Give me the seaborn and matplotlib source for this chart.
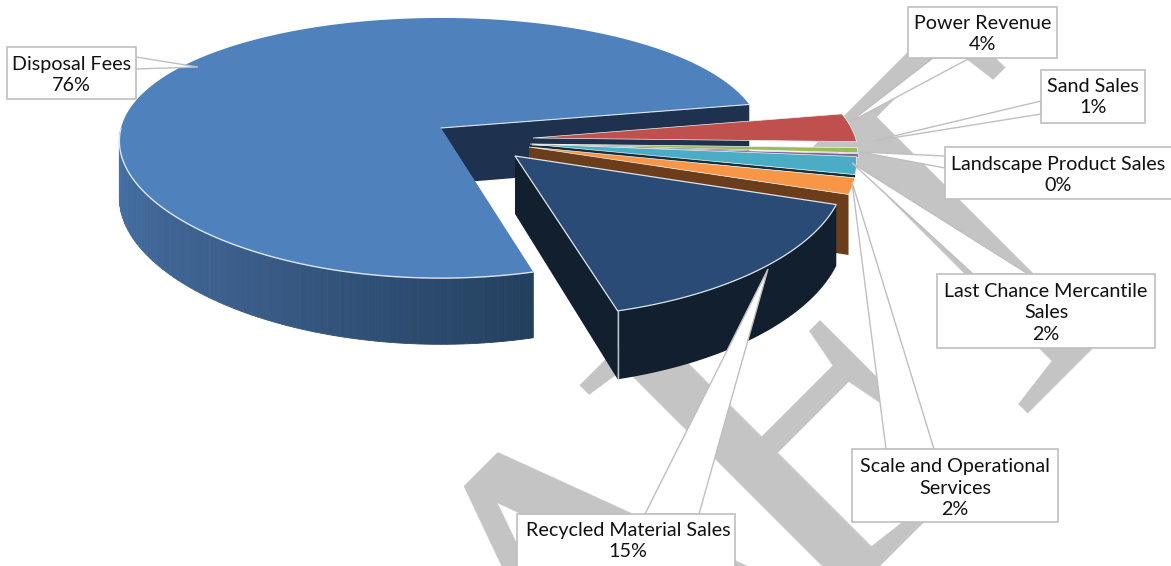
import numpy as np
import matplotlib
matplotlib.use("Agg")
import matplotlib.pyplot as plt
from matplotlib.patches import Polygon, Rectangle
import seaborn as sns

# ---- data ----
categories = ["Power Revenue", "Sand Sales", "Landscape Product Sales",
              "Last Chance Mercantile Sales", "Scale and Operational Services",
              "Recycled Material Sales", "Disposal Fees"]
label_text = ["Power Revenue", "Sand Sales", "Landscape Product Sales",
              "Last Chance Mercantile\nSales", "Scale and Operational\nServices",
              "Recycled Material Sales", "Disposal Fees"]
shares = [3.5, 0.6, 0.45, 2.1, 1.9, 15.3, 76.15]
top_colors = ["#C0504D", "#9BBB59", "#8064A2", "#4BACC6", "#F79646", "#2A4B75", "#4F81BD"]
wall_colors = ["#772C2A", "#5F7530", "#4D3B62", "#12303A", "#6B3D1A", "#111F2E", "#1E3250"]
wall_heights = [0, 0, 0, 3, 56, 56, 56]

# ---- layout ----
W, H = 1171, 566
CX, CY, RX, RY, P, PX = 443, 128, 320, 127, 0.154, 0.10
START = 11.0
apex_px = [(533, 138), (532, 144), (532, 145), (530, 144), (529, 147), (515, 156), (441, 128)]
boxes = [(908, 7, 149, 51), (1041, 70, 104, 53), (945, 147, 240, 52),
         (937, 274, 218, 74), (852, 449, 206, 73), (517, 514, 218, 60), (7, 47, 129, 52)]
leaders = [((933, 58), (970, 58), (850, 122)), ((1041, 101), (1041, 114), (873, 141)),
           ((945, 156), (945, 168), (860, 152)), ((973, 274), (1028, 274), (852, 163)),
           ((886, 449), (934, 449), (852, 182)), ((645, 514), (699, 514), (768, 269)),
           ((136, 57), (136, 69), (198, 67))]
label_centers = [(982.5, 34), (1093, 97), (1058, 175), (1046, 313), (955, 488), (628, 541), (71.5, 75)]
watermark_letters = ["A", "F", "T"]
watermark_anchors = [(726, 706), (908, 524), (1081, 351)]

sns.set_theme(style="white")
plt.rcParams["font.family"] = ["Lato", "DejaVu Sans"]
fig = plt.figure(figsize=(W / 100, H / 100), dpi=100, facecolor="white")
ax = fig.add_axes([0, 0, 1, 1])
ax.set_xlim(0, W)
ax.set_ylim(H, 0)
ax.axis("off")


def to_plane(x, y):
    dy = (y - CY)
    v = dy / (RY + P * dy)
    return (x - CX) * (1 - PX * v) / RX, v


def project(u, v, h=0.0):
    u, v = np.asarray(u, float), np.asarray(v, float)
    s = 1 / (1 - P * v)
    return CX + RX * u / (1 - PX * v), CY + RY * v * s + h * s


def rim(apex, a0, a1, n=120, h=0.0):
    t = np.radians(np.linspace(a0, a1, n))
    return project(apex[0] + np.cos(t), apex[1] - np.sin(t), h)


def poly(xs, ys, z, fc, ec="none", lw=0.0):
    ax.add_patch(Polygon(np.column_stack([xs, ys]), closed=True, facecolor=fc,
                         edgecolor=ec, linewidth=lw, zorder=z))


# watermark (real text, rotated letters)
for letter, (wx, wy) in zip(watermark_letters, watermark_anchors):
    ax.text(wx, wy, letter, family="Liberation Serif", fontsize=374, color="#C4C4C4",
            rotation=45, rotation_mode="anchor", ha="center", va="baseline", zorder=1)

sweeps = np.array(shares) * 3.6
ends = START - np.cumsum(sweeps)
starts = ends + sweeps
apexes = [to_plane(*a) for a in apex_px]

# Disposal Fees
ap = apexes[6]
xa, ya = project(ap[0], ap[1])
xe, ye = rim(ap, ends[6], ends[6], 2)
xa2, ya2 = project(ap[0], ap[1], wall_heights[6])
xe2, ye2 = rim(ap, ends[6], ends[6], 2, wall_heights[6])
poly([xa, xe[0], xe2[0], xa2], [ya, ye[0], ye2[0], ya2], 2, wall_colors[6])
grad = sns.blend_palette(["#24405F", "#3C5F8C", "#4672A8"], 90)
vis_angles = np.linspace(starts[6], -180.0, 91)
for i in range(90):
    xt, yt = rim(ap, vis_angles[i], vis_angles[i + 1], 4)
    xb, yb = rim(ap, vis_angles[i], vis_angles[i + 1], 4, wall_heights[6])
    poly(np.r_[xt, xb[::-1]], np.r_[yt, yb[::-1]], 2, grad[i], grad[i], 0.6)
xr, yr = rim(ap, starts[6], ends[6], 300)
poly(np.r_[xa, xr], np.r_[ya, yr], 3, top_colors[6])
xf, yf = rim(ap, starts[6], -180, 100)
ax.plot(xf, yf, color="#DCE6F1", lw=1.0, zorder=3.1)
ax.plot([xa, xe[0]], [ya, ye[0]], color="#DCE6F1", lw=0.8, zorder=3.1)

# small slices
for i in range(5):
    ap = apexes[i]
    xa, ya = project(ap[0], ap[1])
    xr, yr = rim(ap, starts[i], ends[i], 20)
    if wall_heights[i] > 0:
        h = wall_heights[i]
        xa2, ya2 = project(ap[0], ap[1], h)
        xl2, yl2 = rim(ap, ends[i], ends[i], 2, h)
        poly([xa, xr[-1], xl2[0], xa2], [ya, yr[-1], yl2[0], ya2], 4 + i * 0.01, wall_colors[i])
    poly(np.r_[xa, xr], np.r_[ya, yr], 4.05 + i * 0.01, top_colors[i], "#F2F2F2", 0.5)

# Recycled Material Sales
ap = apexes[5]
xa, ya = project(ap[0], ap[1])
xa2, ya2 = project(ap[0], ap[1], wall_heights[5])
xt, yt = rim(ap, starts[5], ends[5], 80)
xb, yb = rim(ap, starts[5], ends[5], 80, wall_heights[5])
poly(np.r_[xt, xb[::-1]], np.r_[yt, yb[::-1]], 5, wall_colors[5])
poly([xa, xt[-1], xb[-1], xa2], [ya, yt[-1], yb[-1], ya2], 5, wall_colors[5])
poly(np.r_[xa, xt], np.r_[ya, yt], 5.1, top_colors[5], "#DDE3EA", 0.9)
ax.plot([xt[-1], xb[-1]], [yt[-1], yb[-1]], color="#B8C0C8", lw=1.0, zorder=5.2)

# callouts
for name, share, box, lead, (tx, ty) in zip(label_text, shares, boxes, leaders, label_centers):
    poly([p[0] for p in lead], [p[1] for p in lead], 6, "white", "#BFBFBF", 1.0)
    x, y, w, h = box
    ax.add_patch(Rectangle((x, y), w, h, facecolor="white", edgecolor="#BFBFBF",
                           linewidth=1.2, zorder=7))
    ax.text(tx, ty, f"{name}\n{round(share)}%", ha="center", va="center",
            fontsize=14.2, color="#111111", linespacing=1.32, zorder=8)

fig.savefig("out.png", dpi=100)
